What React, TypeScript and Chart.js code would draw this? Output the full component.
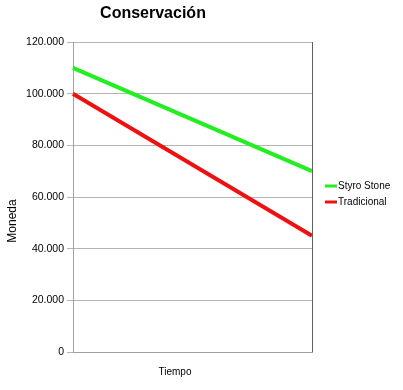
import React, { useEffect, useRef } from "react";
import { Chart, registerables } from "chart.js";

Chart.register(...registerables);

const categories = ["Inicio", "Fin"];
const styroStone = [110000, 70000];
const tradicional = [100000, 45000];
const seriesNames = ["Styro Stone", "Tradicional"];
const seriesColors = ["#22ee22", "#ee1111"];
const chartTitle = "Conservación";
const yTitle = "Moneda";
const xTitle = "Tiempo";

const fmt = (v: number) =>
  v === 0 ? "0" : v.toLocaleString("es-ES", { useGrouping: true }).replace(/,/g, ".");

const fmtDots = (v: number) => {
  if (v === 0) return "0";
  const s = Math.round(v).toString();
  return s.replace(/\B(?=(\d{3})+(?!\d))/g, ".");
};

const decorPlugin = {
  id: "decor",
  afterDraw(chart: any) {
    const { ctx, chartArea } = chart;
    ctx.save();
    // right border
    ctx.strokeStyle = "#606060";
    ctx.lineWidth = 1;
    ctx.beginPath();
    ctx.moveTo(chartArea.right + 0.5, chartArea.top);
    ctx.lineTo(chartArea.right + 0.5, chartArea.bottom);
    ctx.stroke();
    // title
    ctx.fillStyle = "#000";
    ctx.font = "bold 16px 'Liberation Sans', Arial, sans-serif";
    ctx.textAlign = "center";
    ctx.textBaseline = "middle";
    ctx.fillText(chartTitle, 153, 14);
    // x title
    ctx.font = "10px 'Liberation Sans', Arial, sans-serif";
    ctx.fillText(xTitle, 175, 372);
    // y title
    ctx.save();
    ctx.translate(13, 221);
    ctx.rotate(-Math.PI / 2);
    ctx.font = "12px 'Liberation Sans', Arial, sans-serif";
    ctx.fillText(yTitle, 0, 0);
    ctx.restore();
    // legend
    ctx.font = "10px 'Liberation Sans', Arial, sans-serif";
    ctx.textAlign = "left";
    const ys = [186, 202];
    seriesNames.forEach((n, i) => {
      ctx.fillStyle = seriesColors[i];
      ctx.fillRect(325, ys[i] - 1.5, 12, 3);
      ctx.fillStyle = "#000";
      ctx.fillText(n, 338, ys[i]);
    });
    ctx.restore();
  },
};

export default function App() {
  const ref = useRef<HTMLCanvasElement>(null);
  useEffect(() => {
    if (!ref.current) return;
    const chart = new Chart(ref.current, {
      type: "line",
      data: {
        labels: categories,
        datasets: [
          {
            label: seriesNames[0],
            data: styroStone,
            borderColor: seriesColors[0],
            backgroundColor: seriesColors[0],
            borderWidth: 4,
            pointRadius: 0,
            tension: 0,
          },
          {
            label: seriesNames[1],
            data: tradicional,
            borderColor: seriesColors[1],
            backgroundColor: seriesColors[1],
            borderWidth: 4,
            pointRadius: 0,
            tension: 0,
          },
        ],
      },
      options: {
        animation: false,
        responsive: false,
        layout: { padding: { top: 42, right: 91, left: 0, bottom: 0 } },
        plugins: {
          legend: { display: false },
          title: { display: false },
          tooltip: { enabled: false },
        },
        scales: {
          x: {
            type: "category",
            offset: false,
            ticks: { display: false },
            grid: { display: false },
            border: { color: "#a0a0a0" },
            afterFit: (s: any) => {
              s.height = 38;
            },
          },
          y: {
            min: 0,
            max: 120000,
            ticks: {
              stepSize: 20000,
              color: "#000",
              padding: 3,
              font: { family: "'Liberation Sans', Arial, sans-serif", size: 10.5 },
              callback: (v: any) => fmtDots(Number(v)),
            },
            grid: { color: "#b4b4b4", tickLength: 6 },
            border: { color: "#a0a0a0" },
            afterFit: (s: any) => {
              s.width = 73;
            },
          },
        },
      },
      plugins: [decorPlugin],
    });
    return () => chart.destroy();
  }, []);
  return (
    <div style={{ position: "absolute", left: 0, top: 0, width: 403, height: 390, background: "#fff" }}>
      <canvas ref={ref} width={403} height={390} />
    </div>
  );
}
